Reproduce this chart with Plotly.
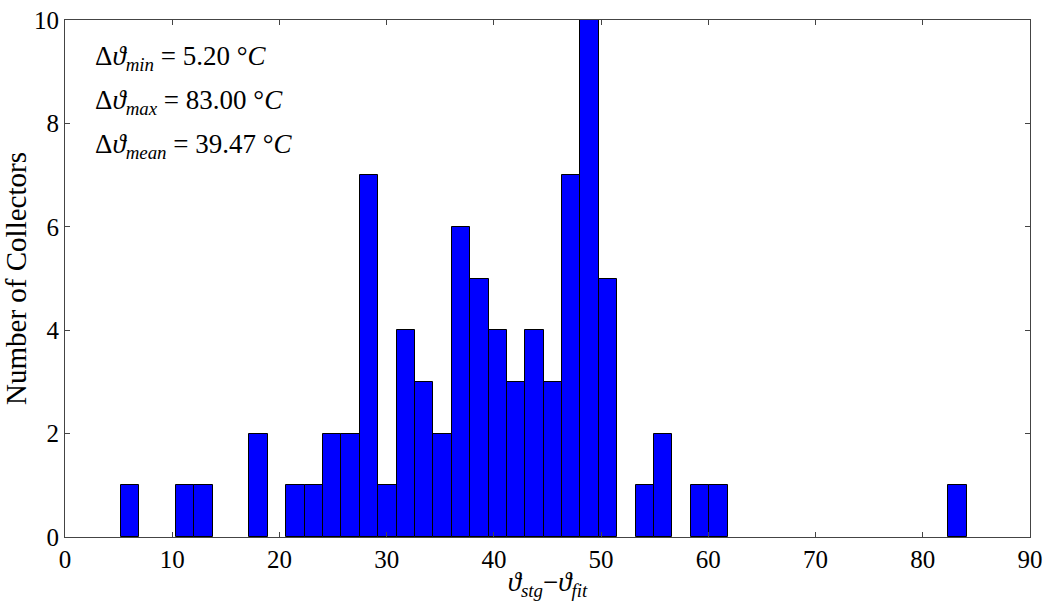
import plotly.graph_objects as go

# Histogram data (46 bins starting at 5.2, width ~1.715)
bin_start = 5.2
bin_width = 1.715
counts = [1, 0, 0, 1, 1, 0, 0, 2, 0, 1,
          1, 2, 2, 7, 1, 4, 3, 2, 6, 5,
          4, 3, 4, 3, 7, 10, 5, 0, 1, 2,
          0, 1, 1, 0, 0, 0, 0, 0, 0, 0,
          0, 0, 0, 0, 0, 1]
x_ticks = [0, 10, 20, 30, 40, 50, 60, 70, 80, 90]
y_ticks = [0, 2, 4, 6, 8, 10]
stat_labels = ["min", "max", "mean"]
stat_values = [5.20, 83.00, 39.47]

centers = [bin_start + bin_width * (i + 0.5) for i in range(len(counts))]
outline_widths = [1 if c > 0 else 0 for c in counts]

serif = "Liberation Serif, Times New Roman, serif"

fig = go.Figure()
fig.add_trace(go.Bar(
    x=centers, y=counts, width=bin_width,
    marker=dict(color="#0000ff", line=dict(color="black", width=outline_widths)),
    showlegend=False,
))

for i, (lab, val) in enumerate(zip(stat_labels, stat_values)):
    fig.add_annotation(
        xref="paper", yref="paper", x=0.029, y=0.926 - i * 0.085,
        xanchor="left", yanchor="middle", showarrow=False,
        text=f"Δ<i>ϑ</i><sub><i>{lab}</i></sub> = {val:.2f} °<i>C</i>",
        font=dict(family=serif, size=27, color="black"),
    )

axis_common = dict(
    showline=True, linecolor="#444", linewidth=1, mirror="allticks",
    ticks="inside", ticklen=5, tickcolor="#444", showgrid=False, zeroline=False,
    tickfont=dict(family=serif, size=25, color="black"), automargin=False,
)

fig.update_layout(
    width=1048, height=601,
    margin=dict(l=65, r=18, t=20, b=64),
    plot_bgcolor="white", paper_bgcolor="white",
    bargap=0,
    xaxis=dict(range=[0, 90], tickvals=x_ticks,
               title=dict(text="<i>ϑ</i><sub><i>stg</i></sub>−<i>ϑ</i><sub><i>fit</i></sub>",
                          font=dict(family=serif, size=27, color="black"), standoff=2),
               **axis_common),
    yaxis=dict(range=[0, 10], tickvals=y_ticks,
               title=dict(text="Number of Collectors",
                          font=dict(family=serif, size=29, color="black"), standoff=8),
               **axis_common),
)

fig.write_html(
    "out.html",
    config={"displayModeBar": False},
    post_script="document.body.style.margin='0';document.body.style.overflow='hidden';",
)
